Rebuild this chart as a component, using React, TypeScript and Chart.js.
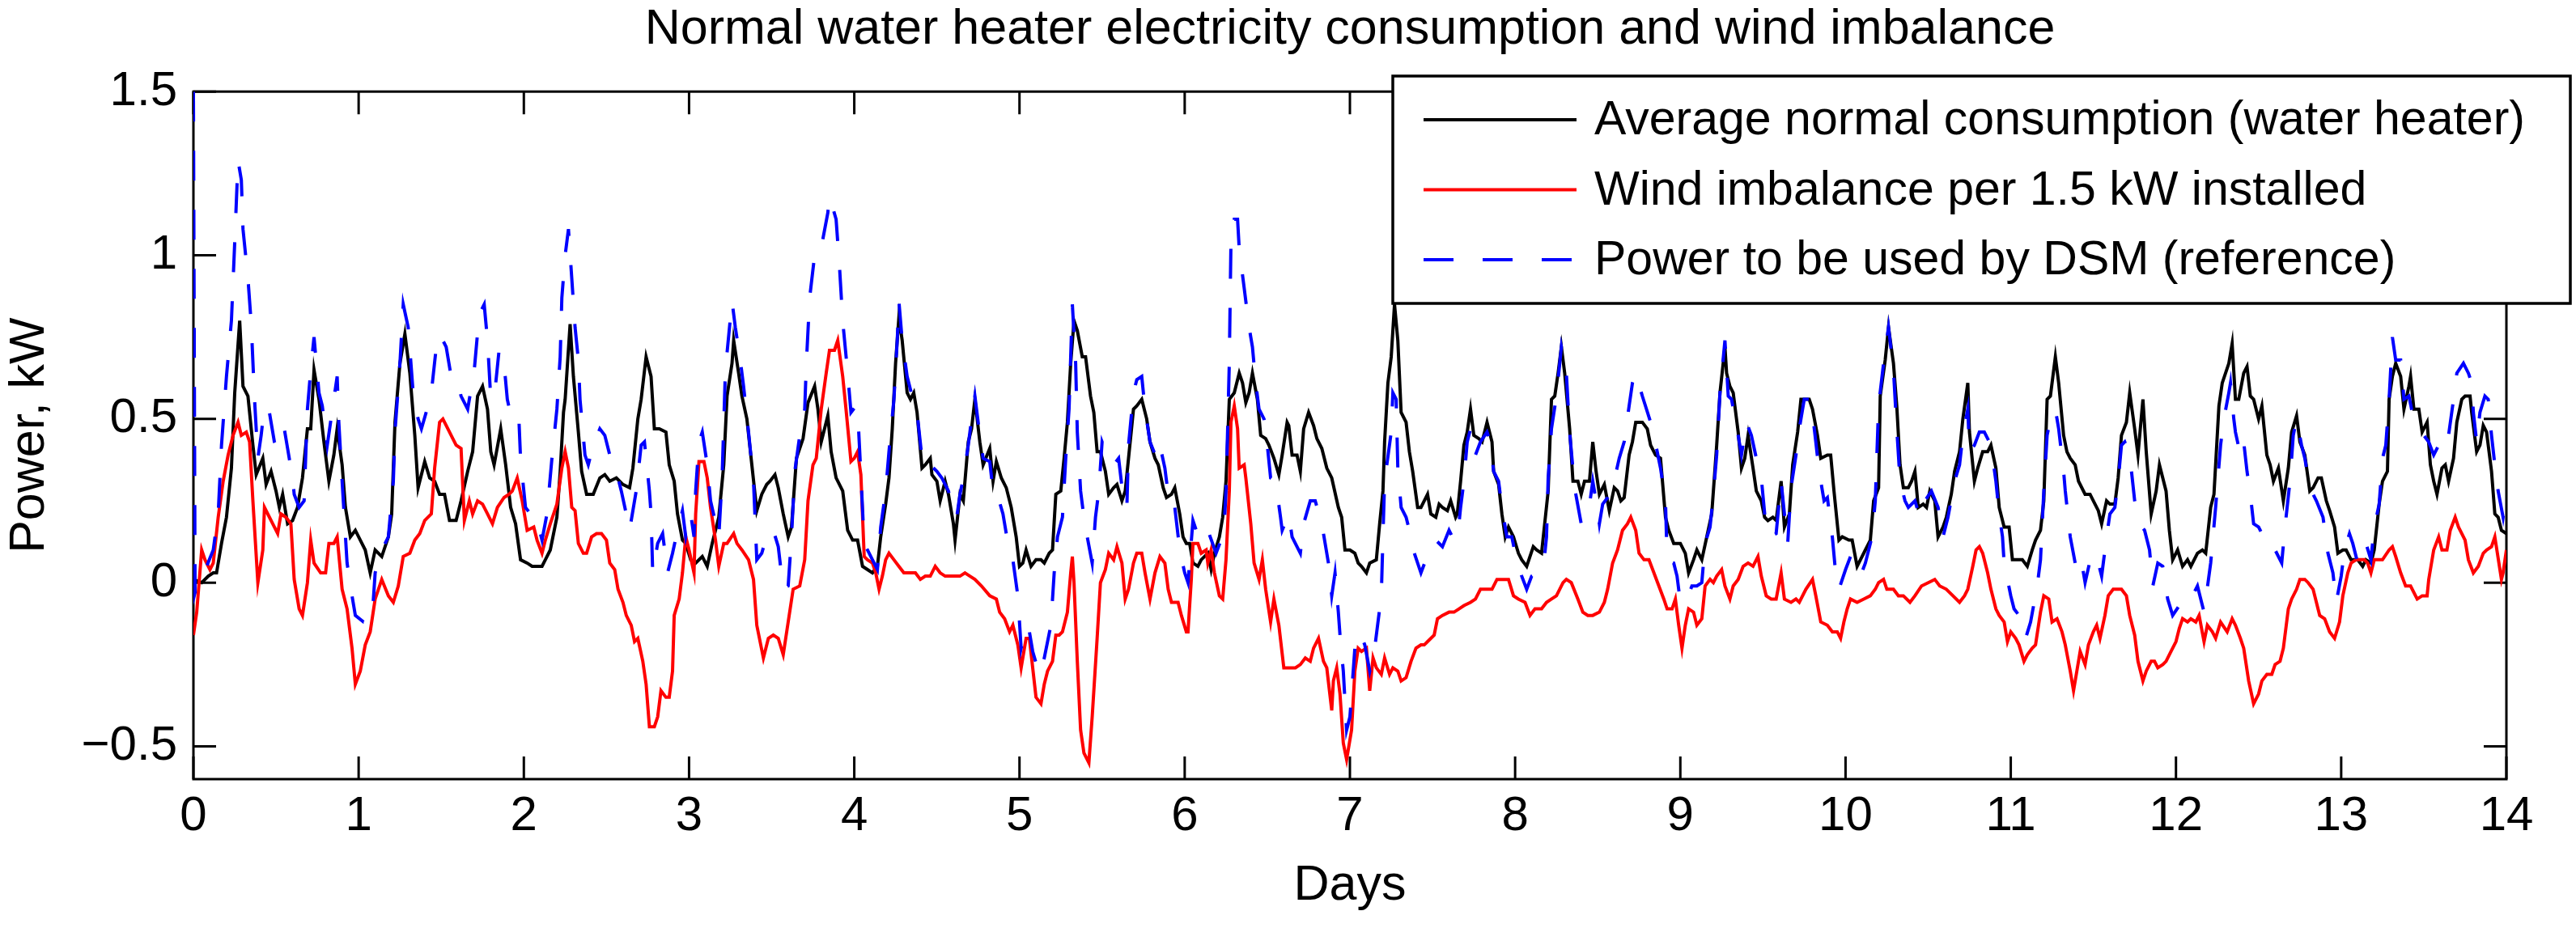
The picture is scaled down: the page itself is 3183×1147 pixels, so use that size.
import React, { useEffect, useRef } from 'react';
import { Chart, registerables } from 'chart.js';

Chart.register(...registerables);

const FONT = '"Liberation Sans", Arial, Helvetica, sans-serif';

const chartTitle = 'Normal water heater electricity consumption and wind imbalance';
const xAxisTitle = 'Days';
const yAxisTitle = 'Power, kW';

const xTickValues = [0, 1, 2, 3, 4, 5, 6, 7, 8, 9, 10, 11, 12, 13, 14];
const yTickValues = [-0.5, 0, 0.5, 1, 1.5];

const seriesLabels = [
  'Average normal consumption (water heater)',
  'Wind imbalance per 1.5 kW installed',
  'Power to be used by DSM (reference)',
];

// [day, kW]
const consumption: [number, number][] = [
  [0, 0.01], [0.05, 0.0], [0.09, 0.02], [0.12, 0.03], [0.14, 0.03], [0.17, 0.12], [0.2, 0.2], [0.23, 0.35], [0.25, 0.58], [0.28, 0.8],
  [0.3, 0.6], [0.33, 0.57], [0.36, 0.42], [0.38, 0.33], [0.42, 0.38], [0.44, 0.3], [0.47, 0.34], [0.5, 0.28], [0.52, 0.23], [0.54, 0.27],
  [0.57, 0.18], [0.6, 0.19], [0.63, 0.23], [0.66, 0.32], [0.69, 0.47], [0.71, 0.47], [0.73, 0.65], [0.76, 0.56], [0.79, 0.43], [0.82, 0.31],
  [0.85, 0.39], [0.87, 0.47], [0.9, 0.36], [0.92, 0.23], [0.95, 0.14], [0.98, 0.16], [1.01, 0.13], [1.04, 0.1], [1.07, 0.03], [1.1, 0.1],
  [1.14, 0.08], [1.18, 0.14], [1.2, 0.21], [1.22, 0.49], [1.25, 0.67], [1.28, 0.76], [1.31, 0.64], [1.34, 0.45], [1.36, 0.29], [1.4, 0.37],
  [1.43, 0.32], [1.46, 0.31], [1.49, 0.27], [1.52, 0.27], [1.55, 0.19], [1.59, 0.19], [1.62, 0.25], [1.66, 0.34], [1.69, 0.4], [1.72, 0.57],
  [1.75, 0.6], [1.78, 0.53], [1.8, 0.4], [1.82, 0.36], [1.86, 0.47], [1.89, 0.36], [1.92, 0.23], [1.95, 0.18], [1.98, 0.07],
  [2.02, 0.06], [2.05, 0.05], [2.08, 0.05], [2.11, 0.05], [2.13, 0.07], [2.16, 0.1], [2.2, 0.2], [2.22, 0.34], [2.24, 0.52], [2.25, 0.56],
  [2.28, 0.79], [2.3, 0.63], [2.33, 0.46], [2.35, 0.34], [2.38, 0.27], [2.42, 0.27], [2.46, 0.32], [2.49, 0.33], [2.52, 0.31], [2.56, 0.32],
  [2.6, 0.3], [2.64, 0.29], [2.66, 0.35], [2.69, 0.5], [2.71, 0.56], [2.74, 0.69], [2.77, 0.63], [2.79, 0.47], [2.82, 0.47], [2.86, 0.46],
  [2.88, 0.36], [2.91, 0.31], [2.93, 0.21], [2.96, 0.13], [2.98, 0.12], [3.01, 0.07], [3.04, 0.06], [3.08, 0.08], [3.11, 0.05], [3.14, 0.12],
  [3.18, 0.2], [3.21, 0.36], [3.23, 0.57], [3.26, 0.67], [3.27, 0.74], [3.3, 0.64], [3.32, 0.57], [3.35, 0.5], [3.38, 0.36], [3.41, 0.22],
  [3.44, 0.27], [3.47, 0.3], [3.49, 0.31], [3.52, 0.33], [3.54, 0.29], [3.57, 0.21], [3.6, 0.14], [3.62, 0.17], [3.65, 0.38], [3.69, 0.44],
  [3.72, 0.55], [3.76, 0.6], [3.78, 0.53], [3.8, 0.43], [3.82, 0.47], [3.84, 0.51], [3.86, 0.4], [3.89, 0.32], [3.93, 0.28], [3.96, 0.16], [3.99, 0.13],
  [4.02, 0.13], [4.05, 0.05], [4.08, 0.04], [4.11, 0.03], [4.14, 0.05], [4.16, 0.14], [4.19, 0.24], [4.21, 0.32], [4.23, 0.47], [4.25, 0.67],
  [4.27, 0.81], [4.29, 0.74], [4.32, 0.58], [4.34, 0.56], [4.36, 0.58], [4.38, 0.52], [4.41, 0.35], [4.43, 0.36], [4.46, 0.38], [4.47, 0.33],
  [4.5, 0.31], [4.52, 0.25], [4.55, 0.31], [4.57, 0.27], [4.6, 0.18], [4.61, 0.13], [4.64, 0.27], [4.66, 0.25], [4.69, 0.43], [4.71, 0.47],
  [4.73, 0.56], [4.76, 0.43], [4.78, 0.36], [4.82, 0.41], [4.84, 0.31], [4.86, 0.37], [4.89, 0.32], [4.92, 0.29], [4.95, 0.23], [4.98, 0.14],
  [5.0, 0.05], [5.02, 0.06], [5.04, 0.1], [5.07, 0.05], [5.1, 0.07], [5.13, 0.07], [5.15, 0.06], [5.18, 0.09], [5.2, 0.1], [5.22, 0.27],
  [5.25, 0.28], [5.27, 0.38], [5.29, 0.49], [5.31, 0.67], [5.33, 0.8], [5.35, 0.77], [5.38, 0.69], [5.4, 0.69], [5.43, 0.57], [5.45, 0.52],
  [5.47, 0.4], [5.49, 0.4], [5.52, 0.34], [5.54, 0.27], [5.57, 0.29], [5.59, 0.3], [5.62, 0.25], [5.64, 0.28], [5.66, 0.38], [5.69, 0.53],
  [5.71, 0.54], [5.74, 0.56], [5.77, 0.5], [5.79, 0.43], [5.82, 0.38], [5.84, 0.36], [5.87, 0.29], [5.89, 0.26], [5.92, 0.27], [5.94, 0.29], [5.97, 0.21], [5.99, 0.14],
  [6.01, 0.12], [6.03, 0.12], [6.05, 0.06], [6.08, 0.05], [6.1, 0.07], [6.14, 0.09], [6.16, 0.04], [6.18, 0.09], [6.21, 0.14], [6.23, 0.2],
  [6.25, 0.31], [6.27, 0.56], [6.3, 0.58], [6.33, 0.64], [6.35, 0.61], [6.37, 0.55], [6.39, 0.58], [6.41, 0.64], [6.44, 0.56], [6.46, 0.45],
  [6.49, 0.44], [6.51, 0.42], [6.54, 0.38], [6.57, 0.33], [6.59, 0.39], [6.62, 0.49], [6.63, 0.48], [6.65, 0.39], [6.68, 0.39], [6.7, 0.34],
  [6.72, 0.47], [6.75, 0.52], [6.78, 0.48], [6.8, 0.44], [6.83, 0.41], [6.86, 0.35], [6.89, 0.32], [6.93, 0.23], [6.95, 0.2], [6.97, 0.1],
  [7.0, 0.1], [7.03, 0.09], [7.05, 0.06], [7.07, 0.05], [7.1, 0.03], [7.12, 0.06], [7.16, 0.07], [7.18, 0.18], [7.2, 0.28], [7.21, 0.43],
  [7.23, 0.61], [7.25, 0.69], [7.27, 0.85], [7.29, 0.74], [7.31, 0.52], [7.34, 0.49], [7.36, 0.4], [7.38, 0.34], [7.41, 0.23], [7.43, 0.23],
  [7.47, 0.27], [7.49, 0.21], [7.52, 0.2], [7.54, 0.24], [7.56, 0.23], [7.59, 0.22], [7.61, 0.25], [7.64, 0.2], [7.65, 0.21], [7.67, 0.31],
  [7.69, 0.42], [7.71, 0.46], [7.73, 0.53], [7.75, 0.45], [7.78, 0.44], [7.8, 0.43], [7.83, 0.49], [7.86, 0.43], [7.87, 0.34], [7.9, 0.3],
  [7.92, 0.21], [7.94, 0.14], [7.96, 0.17], [7.99, 0.14],
  [8.02, 0.09], [8.04, 0.07], [8.07, 0.05], [8.11, 0.11], [8.13, 0.1], [8.16, 0.09], [8.2, 0.28], [8.22, 0.56], [8.24, 0.57], [8.26, 0.64],
  [8.28, 0.72], [8.3, 0.64], [8.33, 0.47], [8.35, 0.31], [8.38, 0.31], [8.4, 0.27], [8.42, 0.31], [8.45, 0.31], [8.47, 0.43], [8.49, 0.34],
  [8.51, 0.27], [8.54, 0.3], [8.57, 0.22], [8.6, 0.29], [8.62, 0.28], [8.64, 0.25], [8.66, 0.26], [8.69, 0.39], [8.71, 0.43], [8.73, 0.49],
  [8.77, 0.49], [8.8, 0.47], [8.82, 0.42], [8.85, 0.39], [8.88, 0.38], [8.91, 0.2], [8.93, 0.16], [8.96, 0.12], [9.0, 0.12], [9.03, 0.09],
  [9.05, 0.03], [9.08, 0.07], [9.1, 0.1], [9.13, 0.07], [9.16, 0.14], [9.19, 0.21], [9.22, 0.42], [9.24, 0.58], [9.27, 0.72], [9.28, 0.64],
  [9.3, 0.6], [9.32, 0.58], [9.35, 0.46], [9.37, 0.35], [9.39, 0.38], [9.41, 0.45], [9.44, 0.35], [9.46, 0.28], [9.49, 0.25], [9.51, 0.2],
  [9.53, 0.19], [9.56, 0.2], [9.58, 0.19], [9.61, 0.31], [9.63, 0.17], [9.66, 0.21], [9.68, 0.36], [9.71, 0.46], [9.73, 0.56], [9.76, 0.56],
  [9.78, 0.56], [9.8, 0.53], [9.83, 0.45], [9.85, 0.38], [9.89, 0.39], [9.91, 0.39], [9.93, 0.28], [9.96, 0.13], [9.98, 0.14],
  [10.02, 0.13], [10.04, 0.13], [10.07, 0.05], [10.09, 0.07], [10.12, 0.1], [10.15, 0.13], [10.17, 0.25], [10.2, 0.29], [10.21, 0.57], [10.24, 0.68],
  [10.26, 0.78], [10.29, 0.67], [10.31, 0.54], [10.33, 0.36], [10.35, 0.29], [10.38, 0.29], [10.4, 0.31], [10.42, 0.34], [10.44, 0.23], [10.47, 0.24],
  [10.49, 0.23], [10.51, 0.28], [10.54, 0.25], [10.56, 0.14], [10.59, 0.17], [10.61, 0.2], [10.64, 0.27], [10.66, 0.34], [10.69, 0.4], [10.71, 0.5],
  [10.74, 0.61], [10.75, 0.46], [10.78, 0.31], [10.8, 0.35], [10.83, 0.4], [10.86, 0.4], [10.88, 0.42], [10.91, 0.35], [10.93, 0.23], [10.96, 0.17],
  [10.99, 0.17], [11.01, 0.07], [11.04, 0.07], [11.07, 0.07], [11.1, 0.05], [11.13, 0.1], [11.15, 0.13], [11.18, 0.16], [11.2, 0.25], [11.22, 0.56],
  [11.24, 0.57], [11.27, 0.69], [11.29, 0.61], [11.32, 0.45], [11.34, 0.4], [11.36, 0.38], [11.39, 0.36], [11.41, 0.31], [11.45, 0.27], [11.48, 0.27],
  [11.5, 0.25], [11.53, 0.22], [11.55, 0.18], [11.58, 0.25], [11.6, 0.24], [11.63, 0.24], [11.65, 0.32], [11.67, 0.45], [11.7, 0.49], [11.72, 0.58],
  [11.75, 0.47], [11.77, 0.39], [11.8, 0.56], [11.82, 0.4], [11.85, 0.21], [11.88, 0.28], [11.9, 0.36], [11.94, 0.28], [11.96, 0.16], [11.98, 0.07],
  [12.01, 0.1], [12.04, 0.05], [12.07, 0.07], [12.09, 0.05], [12.13, 0.09], [12.16, 0.1], [12.18, 0.09], [12.21, 0.23], [12.23, 0.27], [12.26, 0.54],
  [12.28, 0.61], [12.32, 0.67], [12.34, 0.73], [12.36, 0.56], [12.38, 0.56], [12.41, 0.64], [12.43, 0.66], [12.45, 0.57], [12.47, 0.56], [12.5, 0.5],
  [12.52, 0.54], [12.55, 0.39], [12.57, 0.36], [12.59, 0.31], [12.62, 0.35], [12.65, 0.25], [12.68, 0.35], [12.7, 0.46], [12.73, 0.51], [12.75, 0.43],
  [12.78, 0.39], [12.81, 0.28], [12.83, 0.29], [12.86, 0.32], [12.88, 0.32], [12.91, 0.25], [12.93, 0.22], [12.96, 0.17], [12.98, 0.09], [13.01, 0.1],
  [13.03, 0.1], [13.06, 0.07], [13.1, 0.07], [13.13, 0.05], [13.15, 0.07], [13.18, 0.06], [13.2, 0.1], [13.23, 0.24], [13.25, 0.31], [13.28, 0.34],
  [13.29, 0.56], [13.31, 0.63], [13.33, 0.67], [13.36, 0.63], [13.38, 0.53], [13.41, 0.6], [13.42, 0.63], [13.44, 0.53], [13.47, 0.53], [13.49, 0.46],
  [13.52, 0.49], [13.54, 0.36], [13.56, 0.31], [13.58, 0.27], [13.61, 0.35], [13.63, 0.36], [13.65, 0.31], [13.68, 0.38], [13.7, 0.49], [13.73, 0.56],
  [13.75, 0.57], [13.78, 0.57], [13.79, 0.52], [13.82, 0.4], [13.84, 0.42], [13.86, 0.48], [13.88, 0.46], [13.91, 0.34], [13.93, 0.21], [13.95, 0.2],
  [13.97, 0.16], [14.0, 0.15],
];

// [day, kW]
const windImbalance: [number, number][] = [
  [0, -0.16], [0.02, -0.09], [0.05, 0.1], [0.07, 0.07], [0.1, 0.04], [0.12, 0.06], [0.15, 0.2], [0.18, 0.31], [0.21, 0.39], [0.24, 0.45],
  [0.27, 0.49], [0.29, 0.45], [0.32, 0.46], [0.34, 0.43], [0.36, 0.25], [0.39, 0.0], [0.42, 0.1], [0.43, 0.23], [0.46, 0.2], [0.48, 0.18],
  [0.51, 0.15], [0.53, 0.21], [0.56, 0.2], [0.59, 0.18], [0.61, 0.01], [0.64, -0.08], [0.66, -0.1], [0.69, 0.0], [0.71, 0.13], [0.73, 0.06],
  [0.77, 0.03], [0.8, 0.03], [0.82, 0.12], [0.85, 0.12], [0.87, 0.14], [0.9, -0.02], [0.93, -0.08], [0.96, -0.2], [0.98, -0.31], [1.01, -0.27],
  [1.04, -0.19], [1.07, -0.15], [1.1, -0.05], [1.14, 0.01], [1.18, -0.04], [1.21, -0.06], [1.24, -0.01], [1.27, 0.08], [1.31, 0.09], [1.34, 0.13],
  [1.37, 0.15], [1.4, 0.19], [1.44, 0.21], [1.46, 0.35], [1.49, 0.49], [1.51, 0.5], [1.53, 0.48], [1.57, 0.44], [1.59, 0.42], [1.62, 0.41],
  [1.64, 0.19], [1.67, 0.25], [1.69, 0.21], [1.72, 0.25], [1.75, 0.24], [1.78, 0.21], [1.81, 0.18], [1.84, 0.23], [1.88, 0.26], [1.91, 0.27],
  [1.93, 0.28], [1.96, 0.32], [1.99, 0.25], [2.02, 0.16],
  [2.06, 0.17], [2.08, 0.13], [2.11, 0.09], [2.13, 0.13], [2.16, 0.18], [2.2, 0.24], [2.23, 0.35], [2.25, 0.4], [2.27, 0.35], [2.29, 0.23],
  [2.31, 0.22], [2.33, 0.12], [2.36, 0.09], [2.38, 0.09], [2.41, 0.14], [2.44, 0.15], [2.47, 0.15], [2.5, 0.13], [2.52, 0.06], [2.55, 0.04],
  [2.57, -0.02], [2.6, -0.06], [2.62, -0.1], [2.65, -0.13], [2.67, -0.18], [2.69, -0.17], [2.72, -0.24], [2.74, -0.31], [2.76, -0.44], [2.79, -0.44],
  [2.81, -0.41], [2.83, -0.33], [2.86, -0.35], [2.88, -0.35], [2.9, -0.27], [2.91, -0.1], [2.94, -0.05], [2.96, 0.03], [2.98, 0.14], [3.0, 0.1],
  [3.03, 0.03], [3.04, 0.21], [3.06, 0.37], [3.09, 0.37], [3.11, 0.32], [3.13, 0.23], [3.16, 0.13], [3.18, 0.05], [3.21, 0.12], [3.23, 0.12],
  [3.27, 0.15], [3.29, 0.12], [3.32, 0.1], [3.36, 0.07], [3.39, 0.01], [3.41, -0.13], [3.45, -0.23], [3.48, -0.17], [3.51, -0.16], [3.54, -0.17],
  [3.57, -0.22], [3.6, -0.12], [3.63, -0.02], [3.67, -0.01], [3.7, 0.07], [3.72, 0.25], [3.75, 0.36], [3.77, 0.38], [3.8, 0.53], [3.83, 0.64],
  [3.85, 0.71], [3.88, 0.71], [3.9, 0.74], [3.93, 0.63], [3.95, 0.53], [3.98, 0.37], [4.0, 0.38], [4.02, 0.4], [4.04, 0.33], [4.06, 0.08],
  [4.08, 0.07], [4.11, 0.06], [4.13, 0.03], [4.15, -0.02], [4.17, 0.02], [4.19, 0.07], [4.21, 0.09], [4.24, 0.07], [4.27, 0.05], [4.3, 0.03],
  [4.33, 0.03], [4.37, 0.03], [4.4, 0.01], [4.43, 0.02], [4.46, 0.02], [4.49, 0.05], [4.52, 0.03], [4.55, 0.02], [4.6, 0.02], [4.64, 0.02],
  [4.67, 0.03], [4.7, 0.02], [4.73, 0.01], [4.77, -0.01], [4.82, -0.04], [4.86, -0.05], [4.88, -0.09], [4.91, -0.11], [4.94, -0.15], [4.96, -0.13],
  [4.99, -0.19], [5.01, -0.26], [5.04, -0.17], [5.06, -0.17], [5.08, -0.26], [5.1, -0.35], [5.13, -0.37], [5.15, -0.31], [5.17, -0.27], [5.2, -0.24],
  [5.22, -0.16], [5.24, -0.16], [5.26, -0.15], [5.29, -0.09], [5.31, 0.03], [5.32, 0.08], [5.33, 0.0], [5.35, -0.24], [5.37, -0.45], [5.39, -0.52],
  [5.42, -0.55], [5.44, -0.41], [5.47, -0.17], [5.49, 0.0], [5.52, 0.04], [5.54, 0.09], [5.57, 0.07], [5.59, 0.11], [5.62, 0.06], [5.64, -0.05],
  [5.66, -0.02], [5.69, 0.06], [5.71, 0.09], [5.74, 0.09], [5.76, 0.03], [5.79, -0.05], [5.82, 0.03], [5.85, 0.08], [5.88, 0.06], [5.9, -0.02],
  [5.92, -0.06], [5.96, -0.06], [5.98, -0.1], [6.01, -0.15], [6.02, -0.15], [6.04, 0.01], [6.05, 0.12],
  [6.08, 0.12], [6.1, 0.09], [6.13, 0.1], [6.14, 0.06], [6.16, 0.1], [6.18, 0.03], [6.21, -0.04], [6.23, -0.05], [6.25, 0.07], [6.27, 0.28],
  [6.28, 0.49], [6.3, 0.54], [6.32, 0.47], [6.33, 0.35], [6.36, 0.36], [6.37, 0.32], [6.4, 0.18], [6.42, 0.06], [6.45, 0.01], [6.47, 0.07],
  [6.49, -0.02], [6.52, -0.12], [6.54, -0.05], [6.57, -0.13], [6.6, -0.26], [6.63, -0.26], [6.67, -0.26], [6.7, -0.25], [6.73, -0.23], [6.76, -0.24],
  [6.78, -0.2], [6.81, -0.17], [6.84, -0.24], [6.86, -0.26], [6.89, -0.39], [6.9, -0.3], [6.92, -0.26], [6.94, -0.34], [6.96, -0.49], [6.98, -0.54],
  [7.01, -0.45], [7.03, -0.27], [7.05, -0.2], [7.07, -0.21], [7.1, -0.2], [7.12, -0.33], [7.14, -0.23], [7.16, -0.26], [7.19, -0.28], [7.21, -0.23],
  [7.24, -0.28], [7.26, -0.26], [7.29, -0.27], [7.31, -0.3], [7.34, -0.29], [7.37, -0.24], [7.4, -0.2], [7.43, -0.19], [7.45, -0.19], [7.47, -0.18],
  [7.51, -0.16], [7.53, -0.11], [7.56, -0.1], [7.6, -0.09], [7.63, -0.09], [7.66, -0.08], [7.69, -0.07], [7.73, -0.06], [7.76, -0.05], [7.79, -0.02],
  [7.83, -0.02], [7.86, -0.02], [7.89, 0.01], [7.92, 0.01], [7.96, 0.01], [7.99, -0.04], [8.02, -0.05], [8.06, -0.06], [8.09, -0.1],
  [8.12, -0.08], [8.16, -0.08], [8.19, -0.06], [8.22, -0.05], [8.25, -0.04], [8.29, 0.0], [8.31, 0.01], [8.34, 0.0], [8.38, -0.05], [8.41, -0.09],
  [8.44, -0.1], [8.47, -0.1], [8.51, -0.09], [8.54, -0.06], [8.56, -0.02], [8.59, 0.06], [8.62, 0.1], [8.65, 0.16], [8.68, 0.18], [8.7, 0.2],
  [8.73, 0.16], [8.75, 0.09], [8.78, 0.07], [8.81, 0.07], [8.84, 0.03], [8.87, -0.01], [8.9, -0.05], [8.92, -0.08], [8.95, -0.08], [8.97, -0.05],
  [8.99, -0.13], [9.01, -0.2], [9.03, -0.13], [9.05, -0.08], [9.08, -0.09], [9.1, -0.13], [9.13, -0.11], [9.15, -0.01], [9.18, 0.01], [9.2, 0.0],
  [9.22, 0.02], [9.25, 0.04], [9.27, -0.01], [9.3, -0.05], [9.32, -0.01], [9.35, 0.01], [9.38, 0.05], [9.41, 0.06], [9.44, 0.05], [9.47, 0.08],
  [9.49, 0.02], [9.52, -0.04], [9.55, -0.05], [9.58, -0.05], [9.61, 0.03], [9.63, -0.05], [9.67, -0.06], [9.7, -0.05], [9.72, -0.06], [9.76, -0.02],
  [9.8, 0.01], [9.82, -0.04], [9.85, -0.12], [9.89, -0.13], [9.92, -0.15], [9.95, -0.15], [9.97, -0.17], [9.99, -0.12], [10.01, -0.08], [10.03, -0.05],
  [10.07, -0.06], [10.11, -0.05], [10.15, -0.04], [10.18, -0.02], [10.2, 0.0], [10.23, 0.01], [10.25, -0.02], [10.29, -0.02], [10.32, -0.04], [10.35, -0.04],
  [10.39, -0.06], [10.42, -0.04], [10.46, -0.01], [10.5, 0.0], [10.54, 0.01], [10.57, -0.01], [10.61, -0.02], [10.65, -0.04], [10.69, -0.06], [10.72, -0.04],
  [10.74, -0.02], [10.77, 0.05], [10.79, 0.1], [10.81, 0.11], [10.83, 0.09], [10.86, 0.03], [10.88, -0.02], [10.91, -0.08], [10.93, -0.1], [10.96, -0.12],
  [10.98, -0.18], [11.0, -0.15], [11.03, -0.17], [11.05, -0.19], [11.08, -0.24], [11.1, -0.22], [11.13, -0.2], [11.15, -0.19], [11.18, -0.09], [11.2, -0.04],
  [11.23, -0.05], [11.25, -0.12], [11.28, -0.11], [11.31, -0.15], [11.33, -0.19], [11.36, -0.27], [11.38, -0.33], [11.4, -0.27], [11.42, -0.21], [11.45, -0.25],
  [11.47, -0.19], [11.5, -0.15], [11.52, -0.13], [11.54, -0.17], [11.57, -0.1], [11.59, -0.04], [11.62, -0.02], [11.64, -0.02], [11.67, -0.02], [11.7, -0.04],
  [11.72, -0.1], [11.75, -0.16], [11.77, -0.24], [11.8, -0.3], [11.82, -0.27], [11.85, -0.24], [11.87, -0.24], [11.89, -0.26], [11.92, -0.25], [11.94, -0.24],
  [11.97, -0.21], [12.0, -0.18], [12.02, -0.14], [12.04, -0.11], [12.07, -0.12], [12.09, -0.11], [12.12, -0.12], [12.14, -0.1], [12.17, -0.18], [12.19, -0.13],
  [12.22, -0.15], [12.24, -0.17], [12.27, -0.12], [12.31, -0.15], [12.34, -0.11], [12.36, -0.13], [12.39, -0.17], [12.41, -0.2], [12.44, -0.3], [12.47, -0.37],
  [12.5, -0.34], [12.52, -0.3], [12.55, -0.28], [12.58, -0.28], [12.6, -0.25], [12.63, -0.24], [12.65, -0.2], [12.68, -0.08], [12.7, -0.05], [12.73, -0.02],
  [12.75, 0.01], [12.78, 0.01], [12.8, 0.0], [12.83, -0.02], [12.87, -0.1], [12.9, -0.11], [12.93, -0.15], [12.96, -0.17], [12.99, -0.12], [13.01, -0.04],
  [13.04, 0.03], [13.06, 0.06], [13.09, 0.07], [13.11, 0.07], [13.14, 0.07], [13.16, 0.06], [13.18, 0.03], [13.2, 0.07], [13.23, 0.07], [13.25, 0.07],
  [13.29, 0.1], [13.31, 0.11], [13.33, 0.08], [13.36, 0.03], [13.39, -0.01], [13.42, -0.01], [13.46, -0.05], [13.49, -0.04], [13.52, -0.04], [13.53, 0.01],
  [13.56, 0.1], [13.59, 0.14], [13.61, 0.1], [13.64, 0.1], [13.66, 0.16], [13.69, 0.2], [13.71, 0.17], [13.75, 0.13], [13.77, 0.07], [13.8, 0.03],
  [13.83, 0.05], [13.86, 0.09], [13.88, 0.1], [13.91, 0.11], [13.93, 0.14], [13.97, 0.01], [13.98, 0.03], [14.0, 0.1],
];

// [day, kW]
const dsmReference: [number, number][] = [
  [0, 1.5], [0.01, -0.03], [0.04, 0.03], [0.08, 0.05], [0.12, 0.1], [0.15, 0.21], [0.17, 0.42], [0.2, 0.63], [0.23, 0.8], [0.25, 1.04],
  [0.27, 1.29], [0.29, 1.23], [0.3, 1.08], [0.33, 0.93], [0.35, 0.79], [0.37, 0.56], [0.39, 0.38], [0.41, 0.45], [0.43, 0.54], [0.46, 0.52],
  [0.49, 0.43], [0.51, 0.41], [0.55, 0.47], [0.57, 0.41], [0.6, 0.32], [0.61, 0.27], [0.64, 0.23], [0.67, 0.25], [0.69, 0.53], [0.71, 0.65],
  [0.73, 0.75], [0.76, 0.58], [0.78, 0.54], [0.81, 0.42], [0.83, 0.49], [0.87, 0.63], [0.88, 0.49], [0.9, 0.31], [0.93, 0.06], [0.96, -0.04],
  [0.98, -0.1], [1.03, -0.12], [1.08, -0.12], [1.1, 0.03], [1.13, 0.09], [1.18, 0.14], [1.21, 0.31], [1.22, 0.46], [1.25, 0.67], [1.27, 0.85],
  [1.3, 0.78], [1.33, 0.58], [1.36, 0.5], [1.38, 0.47], [1.42, 0.54], [1.44, 0.58], [1.47, 0.72], [1.49, 0.76], [1.53, 0.72], [1.56, 0.63],
  [1.59, 0.63], [1.62, 0.57], [1.66, 0.53], [1.7, 0.65], [1.73, 0.82], [1.76, 0.85], [1.78, 0.74], [1.8, 0.56], [1.83, 0.61], [1.85, 0.71],
  [1.88, 0.67], [1.9, 0.56], [1.93, 0.49], [1.97, 0.5], [1.98, 0.38], [2.01, 0.23], [2.04, 0.21], [2.07, 0.21],
  [2.11, 0.13], [2.14, 0.21], [2.17, 0.38], [2.2, 0.53], [2.22, 0.69], [2.23, 0.87], [2.25, 1.0], [2.27, 1.08], [2.29, 0.93], [2.31, 0.78],
  [2.33, 0.68], [2.34, 0.56], [2.37, 0.39], [2.39, 0.36], [2.42, 0.42], [2.46, 0.47], [2.49, 0.45], [2.53, 0.37], [2.56, 0.34], [2.59, 0.28],
  [2.62, 0.21], [2.64, 0.16], [2.68, 0.28], [2.71, 0.42], [2.73, 0.43], [2.76, 0.28], [2.77, 0.21], [2.78, 0.03], [2.81, 0.12], [2.84, 0.15],
  [2.87, 0.03], [2.9, 0.09], [2.93, 0.16], [2.96, 0.22], [2.98, 0.14], [3.01, 0.21], [3.03, 0.14], [3.04, 0.28], [3.06, 0.43], [3.08, 0.46],
  [3.11, 0.36], [3.13, 0.25], [3.18, 0.14], [3.2, 0.32], [3.22, 0.65], [3.26, 0.86], [3.28, 0.78], [3.31, 0.68], [3.33, 0.6], [3.36, 0.46],
  [3.39, 0.31], [3.41, 0.07], [3.44, 0.09], [3.48, 0.16], [3.51, 0.16], [3.54, 0.11], [3.57, -0.02], [3.6, -0.01], [3.62, 0.14], [3.64, 0.34],
  [3.67, 0.45], [3.7, 0.53], [3.71, 0.67], [3.73, 0.87], [3.76, 1.0], [3.79, 1.0], [3.81, 1.05], [3.84, 1.13], [3.85, 1.18], [3.89, 1.11],
  [3.91, 0.97], [3.93, 0.8], [3.96, 0.64], [3.98, 0.52], [4.01, 0.54], [4.02, 0.53], [4.04, 0.33], [4.06, 0.12],
  [4.11, 0.07], [4.14, 0.04], [4.16, 0.17], [4.19, 0.28], [4.21, 0.4], [4.24, 0.56], [4.26, 0.74], [4.27, 0.86], [4.29, 0.74], [4.32, 0.63],
  [4.35, 0.57], [4.38, 0.52], [4.41, 0.38], [4.44, 0.39], [4.46, 0.36], [4.5, 0.34], [4.53, 0.32], [4.57, 0.28], [4.6, 0.21], [4.62, 0.2],
  [4.64, 0.27], [4.66, 0.32], [4.69, 0.42], [4.71, 0.5], [4.73, 0.57], [4.76, 0.45], [4.78, 0.38], [4.82, 0.37], [4.84, 0.28], [4.86, 0.28],
  [4.9, 0.21], [4.93, 0.12], [4.96, 0.07], [4.99, -0.04], [5.01, -0.2], [5.04, -0.13], [5.06, -0.15], [5.08, -0.21], [5.12, -0.28], [5.15, -0.23],
  [5.19, -0.13], [5.21, 0.03], [5.23, 0.14], [5.26, 0.2], [5.28, 0.38], [5.3, 0.53], [5.31, 0.69], [5.32, 0.85], [5.34, 0.67], [5.35, 0.46],
  [5.37, 0.28], [5.39, 0.2], [5.41, 0.14], [5.44, 0.06], [5.46, 0.2], [5.48, 0.28], [5.5, 0.43], [5.53, 0.39], [5.57, 0.36], [5.6, 0.38],
  [5.63, 0.25], [5.65, 0.23], [5.66, 0.42], [5.69, 0.58], [5.71, 0.62], [5.74, 0.63], [5.76, 0.53], [5.79, 0.43], [5.83, 0.38], [5.85, 0.42],
  [5.88, 0.35], [5.91, 0.23], [5.94, 0.23], [5.97, 0.1], [6.0, 0.03], [6.02, 0.0], [6.05, 0.19], [6.07, 0.16], [6.12, 0.13], [6.14, 0.16],
  [6.19, 0.09], [6.22, 0.13], [6.24, 0.18], [6.25, 0.28], [6.26, 0.47], [6.27, 0.67], [6.275, 0.86], [6.28, 1.04], [6.3, 1.11], [6.32, 1.11],
  [6.33, 1.02], [6.36, 0.9], [6.39, 0.78], [6.41, 0.72], [6.43, 0.61], [6.45, 0.53], [6.48, 0.5], [6.5, 0.42], [6.52, 0.32], [6.55, 0.31],
  [6.58, 0.2], [6.59, 0.16], [6.63, 0.21], [6.65, 0.14], [6.7, 0.09], [6.72, 0.18], [6.76, 0.25], [6.79, 0.25], [6.83, 0.18], [6.85, 0.12],
  [6.87, 0.06], [6.89, -0.04], [6.91, 0.03], [6.93, -0.09], [6.94, -0.16], [6.96, -0.27], [6.98, -0.45], [7.0, -0.41], [7.03, -0.2], [7.06, -0.15],
  [7.09, -0.19], [7.12, -0.27], [7.15, -0.2], [7.17, -0.12], [7.19, -0.04], [7.2, 0.14], [7.21, 0.31], [7.25, 0.46], [7.26, 0.58], [7.28, 0.56],
  [7.29, 0.35], [7.31, 0.23], [7.34, 0.2], [7.37, 0.14], [7.39, 0.09], [7.43, 0.03], [7.46, 0.07], [7.48, 0.1], [7.52, 0.13], [7.56, 0.11],
  [7.6, 0.16], [7.62, 0.14], [7.65, 0.13], [7.67, 0.23], [7.69, 0.31], [7.71, 0.43], [7.73, 0.47], [7.76, 0.39], [7.79, 0.43], [7.83, 0.46],
  [7.85, 0.43], [7.87, 0.34], [7.9, 0.31], [7.92, 0.23], [7.95, 0.14], [7.98, 0.14], [8.0, 0.09], [8.04, 0.02], [8.07, -0.02],
  [8.1, 0.02], [8.17, 0.04], [8.19, 0.14], [8.2, 0.32], [8.22, 0.47], [8.25, 0.57], [8.28, 0.72], [8.31, 0.64], [8.33, 0.46], [8.36, 0.29],
  [8.4, 0.18], [8.44, 0.2], [8.47, 0.31], [8.5, 0.22], [8.51, 0.18], [8.53, 0.24], [8.56, 0.26], [8.59, 0.29], [8.63, 0.38], [8.66, 0.43],
  [8.69, 0.54], [8.71, 0.61], [8.73, 0.64], [8.77, 0.57], [8.82, 0.49], [8.84, 0.45], [8.88, 0.35], [8.91, 0.25], [8.92, 0.07], [8.96, 0.06],
  [8.98, 0.02], [9.0, -0.06], [9.04, -0.05], [9.07, -0.01], [9.1, -0.01], [9.13, 0.0], [9.15, 0.12], [9.18, 0.17], [9.2, 0.27], [9.22, 0.39],
  [9.24, 0.58], [9.27, 0.74], [9.29, 0.57], [9.31, 0.56], [9.35, 0.45], [9.37, 0.39], [9.4, 0.49], [9.43, 0.45], [9.46, 0.38], [9.49, 0.32],
  [9.52, 0.16], [9.54, 0.14], [9.58, 0.15], [9.61, 0.31], [9.63, 0.21], [9.65, 0.12], [9.67, 0.29], [9.7, 0.39], [9.72, 0.47], [9.75, 0.56],
  [9.79, 0.56], [9.82, 0.43], [9.84, 0.34], [9.87, 0.25], [9.89, 0.26], [9.92, 0.14], [9.94, 0.03], [9.96, -0.02], [10.0, 0.04], [10.03, 0.08],
  [10.05, 0.05], [10.09, 0.02], [10.12, 0.06], [10.16, 0.14], [10.18, 0.25], [10.2, 0.54], [10.23, 0.67], [10.26, 0.78], [10.29, 0.65], [10.31, 0.47],
  [10.33, 0.31], [10.36, 0.25], [10.38, 0.23], [10.42, 0.25], [10.45, 0.2], [10.48, 0.25], [10.52, 0.28], [10.56, 0.23], [10.59, 0.14], [10.62, 0.2],
  [10.66, 0.31], [10.69, 0.36], [10.71, 0.45], [10.74, 0.53], [10.75, 0.4], [10.78, 0.42], [10.81, 0.46], [10.84, 0.46], [10.88, 0.42], [10.91, 0.31],
  [10.93, 0.21], [10.95, 0.14], [10.96, 0.06], [11.0, -0.04], [11.02, -0.08], [11.05, -0.1], [11.09, -0.17], [11.12, -0.12], [11.16, -0.01], [11.18, 0.07],
  [11.2, 0.28], [11.22, 0.45], [11.24, 0.5], [11.27, 0.53], [11.29, 0.47], [11.32, 0.34], [11.33, 0.28], [11.36, 0.14], [11.39, 0.06], [11.42, 0.09],
  [11.45, 0.0], [11.49, 0.09], [11.53, 0.06], [11.55, 0.02], [11.58, 0.14], [11.6, 0.21], [11.63, 0.23], [11.65, 0.31], [11.67, 0.42], [11.69, 0.43],
  [11.72, 0.39], [11.75, 0.25], [11.78, 0.18], [11.81, 0.16], [11.84, 0.1], [11.86, -0.01], [11.89, 0.06], [11.92, 0.05], [11.95, -0.05], [11.98, -0.1],
  [12.02, -0.07], [12.04, -0.05], [12.08, -0.06], [12.13, -0.01], [12.17, -0.09], [12.21, 0.06], [12.24, 0.23], [12.27, 0.42], [12.29, 0.5], [12.32, 0.58],
  [12.33, 0.61], [12.35, 0.5], [12.36, 0.46], [12.39, 0.39], [12.41, 0.43], [12.43, 0.34], [12.45, 0.27], [12.47, 0.18], [12.5, 0.17], [12.53, 0.14],
  [12.55, 0.1], [12.6, 0.1], [12.64, 0.06], [12.66, 0.17], [12.69, 0.31], [12.71, 0.45], [12.73, 0.5], [12.76, 0.42], [12.78, 0.38], [12.81, 0.29],
  [12.85, 0.25], [12.89, 0.2], [12.92, 0.09], [12.95, 0.03], [12.97, -0.06], [13.0, 0.02], [13.02, 0.1], [13.05, 0.15], [13.07, 0.12], [13.1, 0.06],
  [13.15, 0.12], [13.18, 0.07], [13.2, 0.17], [13.23, 0.24], [13.25, 0.38], [13.27, 0.42], [13.29, 0.56], [13.31, 0.75], [13.33, 0.68], [13.36, 0.68],
  [13.38, 0.56], [13.41, 0.57], [13.43, 0.52], [13.46, 0.49], [13.5, 0.45], [13.53, 0.43], [13.56, 0.39], [13.59, 0.42], [13.62, 0.47], [13.65, 0.45],
  [13.68, 0.56], [13.7, 0.64], [13.74, 0.67], [13.77, 0.64], [13.79, 0.61], [13.8, 0.52], [13.82, 0.43], [13.84, 0.52], [13.87, 0.57], [13.89, 0.56],
  [13.91, 0.45], [13.93, 0.36], [13.95, 0.28], [13.98, 0.2], [14.0, 0.27],
];

const seriesData = [consumption, windImbalance, dsmReference];
const seriesColors = ['#000000', '#ff0000', '#0000ff'];
const seriesDash = [[], [], [37, 36]];
const seriesOrder = [2, 1, 0]; // blue on top, like the original

// axes box with inward ticks on all four sides (drawn under the lines)
const matlabFrame = {
  id: 'matlabFrame',
  beforeDatasetsDraw(chart: any) {
    const { ctx, chartArea, scales } = chart;
    const { left, right, top, bottom } = chartArea;
    const tick = 28;
    ctx.save();
    ctx.strokeStyle = '#000';
    ctx.lineWidth = 3;
    ctx.beginPath();
    xTickValues.forEach((v) => {
      const px = scales.x.getPixelForValue(v);
      ctx.moveTo(px, bottom);
      ctx.lineTo(px, bottom - tick);
      ctx.moveTo(px, top);
      ctx.lineTo(px, top + tick);
    });
    yTickValues.forEach((v) => {
      const py = scales.y.getPixelForValue(v);
      ctx.moveTo(left, py);
      ctx.lineTo(left + tick, py);
      ctx.moveTo(right, py);
      ctx.lineTo(right - tick, py);
    });
    ctx.stroke();
    ctx.strokeRect(left, top, right - left, bottom - top);
    ctx.restore();
  },
};

// boxed legend in the upper right, sitting over the axes edge
const boxedLegend = {
  id: 'boxedLegend',
  afterDraw(chart: any) {
    const { ctx } = chart;
    const x1 = 1721, y1 = 94, x2 = 3176, y2 = 375;
    ctx.save();
    ctx.fillStyle = '#fff';
    ctx.fillRect(x1, y1, x2 - x1, y2 - y1);
    ctx.strokeStyle = '#000';
    ctx.lineWidth = 3.5;
    ctx.strokeRect(x1, y1, x2 - x1, y2 - y1);
    ctx.font = `59px ${FONT}`;
    ctx.textBaseline = 'middle';
    ctx.textAlign = 'left';
    chart.data.datasets.forEach((ds: any, i: number) => {
      const y = 148 + i * 86.5;
      ctx.strokeStyle = ds.borderColor;
      ctx.lineWidth = ds.borderWidth;
      ctx.setLineDash(ds.borderDash || []);
      ctx.beginPath();
      ctx.moveTo(1759, y);
      ctx.lineTo(1948, y);
      ctx.stroke();
      ctx.setLineDash([]);
      ctx.fillStyle = '#000';
      ctx.fillText(ds.label, 1970, y + 2);
    });
    ctx.restore();
  },
};

const formatTick = (v: number) => (v < 0 ? '\u2212' + Math.abs(v) : String(v));

export default function App() {
  const canvasRef = useRef<HTMLCanvasElement>(null);

  useEffect(() => {
    document.body.style.margin = '0';
    if (!canvasRef.current) return;
    const chart = new Chart(canvasRef.current, {
      type: 'line',
      data: {
        datasets: seriesLabels.map((label, i) => ({
          label,
          data: seriesData[i] as any,
          borderColor: seriesColors[i],
          backgroundColor: seriesColors[i],
          borderWidth: 4,
          borderDash: seriesDash[i],
          pointRadius: 0,
          tension: 0,
          fill: false,
          order: seriesOrder[i],
        })),
      },
      options: {
        animation: false,
        responsive: false,
        events: [],
        layout: { padding: { top: 0, right: 86, bottom: 0, left: 0 } },
        scales: {
          x: {
            type: 'linear',
            min: 0,
            max: 14,
            afterBuildTicks: (s: any) => {
              s.ticks = xTickValues.map((v) => ({ value: v }));
            },
            afterFit: (s: any) => {
              s.height = 184;
            },
            grid: { display: false, drawTicks: false },
            border: { display: false },
            ticks: {
              color: '#000',
              font: { family: FONT, size: 60 },
              padding: 10,
              maxRotation: 0,
              autoSkip: false,
              callback: (v: any) => formatTick(Number(v)),
            },
            title: {
              display: true,
              text: xAxisTitle,
              color: '#000',
              font: { family: FONT, size: 61 },
              padding: { top: 0, bottom: 15 },
            },
          },
          y: {
            type: 'linear',
            min: -0.6,
            max: 1.5,
            afterBuildTicks: (s: any) => {
              s.ticks = yTickValues.map((v) => ({ value: v }));
            },
            afterFit: (s: any) => {
              s.width = 239;
            },
            grid: { display: false, drawTicks: false },
            border: { display: false },
            ticks: {
              color: '#000',
              font: { family: FONT, size: 60 },
              padding: 20,
              autoSkip: false,
              callback: (v: any) => formatTick(Number(v)),
            },
            title: {
              display: true,
              text: yAxisTitle,
              color: '#000',
              font: { family: FONT, size: 61 },
              padding: { top: 1, bottom: 0 },
            },
          },
        },
        plugins: {
          legend: { display: false },
          tooltip: { enabled: false },
          title: {
            display: true,
            text: chartTitle,
            color: '#000',
            fullSize: false,
            font: { family: FONT, size: 61, weight: 'normal' },
            padding: { top: 1, bottom: 39 },
          },
        },
      },
      plugins: [matlabFrame, boxedLegend],
    });
    return () => chart.destroy();
  }, []);

  return (
    <div style={{ width: 3183, height: 1147, background: '#fff' }}>
      <canvas ref={canvasRef} width={3183} height={1147} style={{ display: 'block' }} />
    </div>
  );
}
